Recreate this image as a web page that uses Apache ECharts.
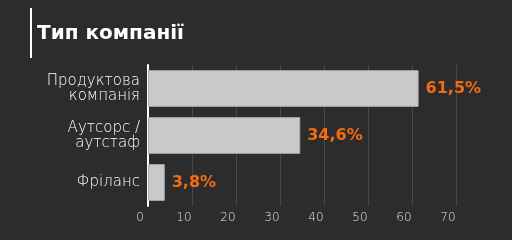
<!DOCTYPE html>
<html><head><meta charset="utf-8">
<script src="https://cdn.jsdelivr.net/npm/echarts@6/dist/echarts.min.js"></script>
<style>html,body{margin:0;padding:0;background:#2c2c2c}#c{width:512px;height:240px}</style>
</head><body><div id="c"></div>
<script>
const titleText = 'Тип компанії';
const categories = ['Продуктова\nкомпанія', 'Аутсорс /\nаутстаф', 'Фріланс'];
const values = [61.5, 34.6, 3.8];
const valueLabels = ['61,5%', '34,6%', '3,8%'];
const xTicks = [0, 10, 20, 30, 40, 50, 60, 70];

const chart = echarts.init(document.getElementById('c'));
chart.setOption({
  backgroundColor: '#2c2c2c',
  animation: false,
  graphic: [
    { type: 'rect', shape: { x: 30, y: 8, width: 2, height: 50 }, style: { fill: '#ffffff' } },
    { type: 'text', left: 37, top: 24, style: { text: titleText, fill: '#ffffff', font: 'bold 20px "DejaVu Sans", sans-serif' } }
  ],
  grid: { left: 148, right: 56, top: 65, bottom: 34, containLabel: false },
  xAxis: {
    type: 'value', min: xTicks[0], max: xTicks[xTicks.length - 1], interval: 10,
    axisLine: { show: false }, axisTick: { show: false },
    splitLine: { show: true, lineStyle: { color: '#474747', width: 1 } },
    axisLabel: { color: '#e0e0e0', fontSize: 12, fontFamily: '"DejaVu Sans", sans-serif', fontWeight: 200, margin: 6, padding: [0, 16, 0, 0] }
  },
  yAxis: {
    type: 'category', data: categories, inverse: true,
    axisLine: { show: true, lineStyle: { color: '#ffffff', width: 2 } },
    axisTick: { show: false },
    axisLabel: { color: '#ffffff', fontSize: 15, fontFamily: '"DejaVu Sans", sans-serif', fontWeight: 200, lineHeight: 15, margin: 8, align: 'right' }
  },
  series: [{
    type: 'bar', data: values, barCategoryGap: '22%',
    itemStyle: { color: '#c9c9c9', borderColor: '#b0b0b0', borderWidth: 1 },
    label: {
      show: true, position: 'right', distance: 7,
      color: '#f26c12', fontSize: 16, fontWeight: 'bold', fontFamily: '"DejaVu Sans", sans-serif',
      formatter: p => valueLabels[p.dataIndex]
    }
  }]
});
</script></body></html>
